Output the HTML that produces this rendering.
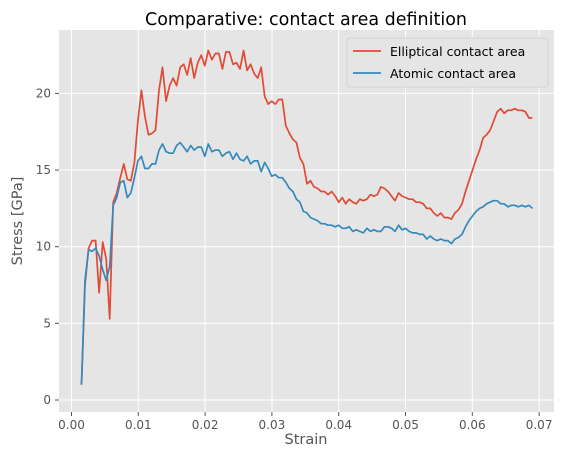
<!DOCTYPE html>
<html><head><meta charset="utf-8"><style>
body{margin:0;background:#fff;font-family:"Liberation Sans","DejaVu Sans",sans-serif}
svg text{font-family:"DejaVu Sans","Liberation Sans",sans-serif}
</style></head><body>
<svg id="chart" width="565" height="457" xmlns="http://www.w3.org/2000/svg">
<rect width="565" height="457" fill="#fff"/>
<text x="306" y="25" text-anchor="middle" font-size="17.5" fill="#000">Comparative: contact area definition</text>
<rect x="59" y="30" width="495" height="382" fill="#e5e5e5"/>
<g id="grid"></g><g id="ticks"></g><g id="series"></g>
<text x="306" y="444" text-anchor="middle" font-size="14.5" fill="#555">Strain</text>
<text transform="translate(22,221) rotate(-90)" text-anchor="middle" font-size="14.5" fill="#555">Stress [GPa]</text>
<g>
<rect x="347" y="38" width="201" height="49" rx="3" fill="#e5e5e5" stroke="#ccc" stroke-width="0.8"/>
<line x1="353" y1="51" x2="381" y2="51" stroke="#E24A33" stroke-width="1.8"/>
<text x="390" y="56" font-size="12.5" fill="#000">Elliptical contact area</text>
<line x1="353" y1="73" x2="381" y2="73" stroke="#348ABD" stroke-width="1.8"/>
<text x="390" y="78" font-size="12.5" fill="#000">Atomic contact area</text>
</g>
</svg>
<script>
const xTicks=[0,0.01,0.02,0.03,0.04,0.05,0.06,0.07];
const xTickLabels=["0.00","0.01","0.02","0.03","0.04","0.05","0.06","0.07"];
const yTicks=[0,5,10,15,20];
const strainStart=0.0015, strainEnd=0.069;
const elliptical=[1,7.5,9.9,10.4,10.4,7,10.3,9.2,5.3,12.9,13.5,14.5,15.4,14.4,14.3,15.5,18.2,20.2,18.5,17.3,17.4,17.6,20.2,21.7,19.5,20.5,21,20.5,21.7,21.9,21.2,22.3,21,22,22.5,21.8,22.8,22.2,22.6,22.6,21.6,22.7,22.7,21.9,22,21.6,22.8,21.5,21.9,21.3,21,21.7,19.8,19.3,19.5,19.3,19.6,19.6,17.9,17.4,17,16.8,15.8,15.4,14.1,14.3,13.9,13.8,13.6,13.6,13.4,13.6,13.3,12.9,13.2,12.8,13.1,12.9,12.8,13.1,13,13.1,13.4,13.3,13.4,13.9,13.8,13.6,13.3,13,13.5,13.3,13.2,13.1,13.1,12.9,12.9,12.8,12.5,12.5,12.2,12,12.2,11.9,11.9,11.8,12.2,12.4,12.8,13.6,14.3,15,15.7,16.3,17.1,17.3,17.6,18.2,18.8,19,18.7,18.9,18.9,19,18.9,18.9,18.8,18.4,18.4];
const atomic=[1,7.8,9.8,9.7,9.9,9.4,8.5,7.8,8.7,12.7,13.2,14.2,14.3,13.2,13.5,14.5,15.6,15.9,15.1,15.1,15.4,15.4,16.3,16.7,16.2,16.1,16.1,16.6,16.8,16.5,16.2,16.6,16.3,16.5,16.5,15.9,16.7,16.2,16.3,16.3,15.9,16.1,16.2,15.7,16.1,15.7,15.6,15.9,15.4,15.6,15.6,14.9,15.5,15.1,14.6,14.7,14.5,14.5,14.2,13.8,13.6,13.1,12.9,12.3,12.2,11.9,11.8,11.7,11.5,11.5,11.4,11.4,11.3,11.4,11.2,11.2,11.3,11,11.1,11,10.9,11.2,11,11.1,11,11,11.3,11.3,11.2,11,11.4,11.1,11.2,11,10.9,10.9,10.8,10.8,10.5,10.7,10.5,10.4,10.5,10.4,10.4,10.2,10.5,10.6,10.8,11.3,11.7,12,12.3,12.5,12.6,12.8,12.9,13,13,12.8,12.8,12.6,12.7,12.7,12.6,12.7,12.6,12.7,12.5];
const NS="http://www.w3.org/2000/svg";
const X=v=>71.5+v*6680, Y=v=>400-v*15.33;
function mk(tag,attrs,parent){const e=document.createElementNS(NS,tag);for(const k in attrs)e.setAttribute(k,attrs[k]);parent.appendChild(e);return e;}
const grid=document.getElementById('grid'),ticks=document.getElementById('ticks'),series=document.getElementById('series');
xTicks.forEach((t,i)=>{
  const l=mk('line',{x1:X(t),x2:X(t),y1:30,y2:412,stroke:'#fff','stroke-width':1},grid);
  
  
  mk('line',{x1:X(t),x2:X(t),y1:412,y2:416,stroke:'#555'},ticks);
  const tx=mk('text',{x:X(t),y:429,'text-anchor':'middle','font-size':12,fill:'#555'},ticks);
  tx.textContent=xTickLabels[i];
  
  
});
yTicks.forEach(t=>{
  const l=mk('line',{x1:59,x2:554,y1:Y(t),y2:Y(t),stroke:'#fff','stroke-width':1},grid);
  
  
  mk('line',{x1:55,x2:59,y1:Y(t),y2:Y(t),stroke:'#555'},ticks);
  const tx=mk('text',{x:51,y:Y(t)+4,'text-anchor':'end','font-size':12,fill:'#555'},ticks);
  tx.textContent=String(t);
  
  
});
function draw(vals,color,name){
  const n=vals.length;
  const pts=vals.map((v,i)=>{const s=strainStart+(strainEnd-strainStart)*i/(n-1);return X(s).toFixed(1)+','+Y(v).toFixed(1);}).join(' ');
  const p=mk('polyline',{points:pts,fill:'none',stroke:color,'stroke-width':1.7,'stroke-linejoin':'round'},series);
  
  
}
draw(elliptical,'#E24A33','elliptical-series');
draw(atomic,'#348ABD','atomic-series');
</script>
</body></html>
